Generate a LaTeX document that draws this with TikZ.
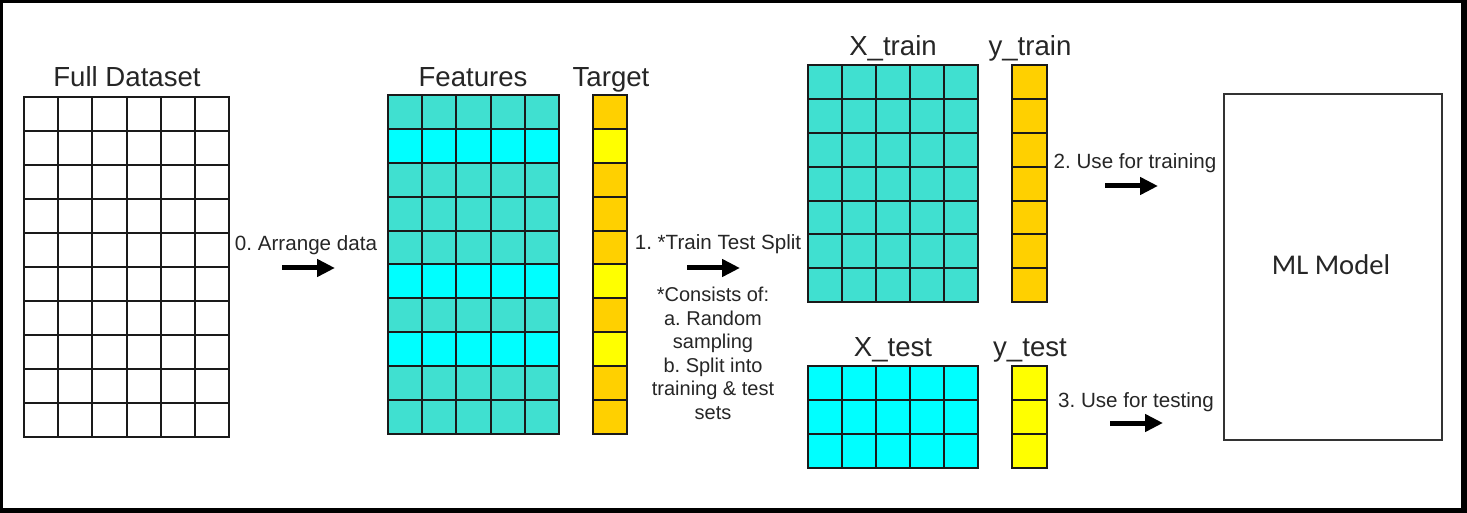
\documentclass[tikz,border=0pt]{standalone}
\usepackage{fontspec}
\setmainfont{Liberation Sans}
\newfontfamily\calib{Carlito}
\usetikzlibrary{arrows.meta}
\definecolor{turq}{HTML}{40E0D0}
\definecolor{cyn}{HTML}{00FFFF}
\definecolor{gld}{HTML}{FFD000}
\definecolor{ylw}{HTML}{FFFF00}
\definecolor{gridc}{HTML}{1A1A1A}
\definecolor{txtc}{HTML}{262626}
\frenchspacing
\begin{document}
\begin{tikzpicture}[x=0.5pt,y=-0.5pt,
  cell/.style={draw=gridc, line width=1pt, minimum width=17.1pt, minimum height=17pt, inner sep=0pt, outer sep=0pt, anchor=north west},
  title/.style={font=\fontsize{13.8}{16}\selectfont, inner sep=0pt, anchor=base, text=txtc},
  lab/.style={font=\fontsize{10.3}{12}\selectfont, inner sep=0pt, anchor=base, text=txtc},
  flow/.style={line width=2.5pt, -{Triangle[length=9pt,width=8.5pt]}}]
\useasboundingbox (0,0) rectangle (1467,513);
\fill[black] (0,0) rectangle (1467,513);
\fill[white] (3,3) rectangle (1461,508);
% Full dataset
\foreach \i in {0,...,5}
  \foreach \j in {0,...,9}
    \node[cell, fill=white] (fd-\i-\j) at ({24+34.17*\i},{97+34*\j}) {};
\node[title] (tfd) at (127,87) {Full Dataset};
% Features and target
\foreach \j/\c/\t in {0/turq/gld,1/cyn/ylw,2/turq/gld,3/turq/gld,4/turq/gld,5/cyn/ylw,6/turq/gld,7/cyn/ylw,8/turq/gld,9/turq/gld}{
  \foreach \i in {0,...,4}
    \node[cell, fill=\c] (ft-\i-\j) at ({388+34.2*\i},{95+33.9*\j}) {};
  \node[cell, fill=\t] (tg-\j) at (593,{95+33.9*\j}) {};
}
\node[title] (tft) at (473,87) {Features};
\node[title] (ttg) at (611,87) {Target};
% X_train, y_train
\foreach \j in {0,...,6}{
  \foreach \i in {0,...,4}
    \node[cell, fill=turq] (xtr-\i-\j) at ({808+34*\i},{65+33.9*\j}) {};
  \node[cell, fill=gld, minimum width=17.5pt] (ytr-\j) at (1012,{65+33.9*\j}) {};
}
\node[title] (txtr) at (893,56) {X\_train};
\node[title] (tytr) at (1030,56) {y\_train};
% X_test, y_test
\foreach \j in {0,...,2}{
  \foreach \i in {0,...,4}
    \node[cell, fill=cyn] (xte-\i-\j) at ({808+34*\i},{366+34*\j}) {};
  \node[cell, fill=ylw, minimum width=17.5pt] (yte-\j) at (1012,{366+34*\j}) {};
}
\node[title] (txte) at (893,357) {X\_test};
\node[title] (tyte) at (1030,357) {y\_test};
% ML model
\node[draw=black!80, line width=1pt, minimum width=109pt, minimum height=173pt, inner sep=0pt, anchor=north west] (ml) at (1223,93) {};
\node[font=\calib\fontsize{14.3}{16}\selectfont, inner sep=0pt, anchor=base, text=txtc] (tml) at (1331,275) {ML Model};
% labels
\node[lab] (l0) at (306,251) {0. Arrange data};
\node[lab] (l1) at (718,250) {1. *Train Test Split};
\node[lab] (l2) at (1135,169) {2. Use for training};
\node[lab] (l3) at (1136,407) {3. Use for testing};
\node[font=\fontsize{10}{11.75}\selectfont, inner sep=0pt, anchor=north, align=center, text=txtc] (cons) at (713,287)
  {*Consists of:\\a. Random\\sampling\\b. Split into\\training \& test\\sets};
% arrows
\coordinate (a0s) at (282,268); \coordinate (a0e) at (335,268);
\coordinate (a1s) at (687,268); \coordinate (a1e) at (740,268);
\coordinate (a2s) at (1105,186); \coordinate (a2e) at (1158,186);
\coordinate (a3s) at (1110,423); \coordinate (a3e) at (1163,423);
\draw[flow] (a0s) -- (a0e);
\draw[flow] (a1s) -- (a1e);
\draw[flow] (a2s) -- (a2e);
\draw[flow] (a3s) -- (a3e);
\end{tikzpicture}
\end{document}
